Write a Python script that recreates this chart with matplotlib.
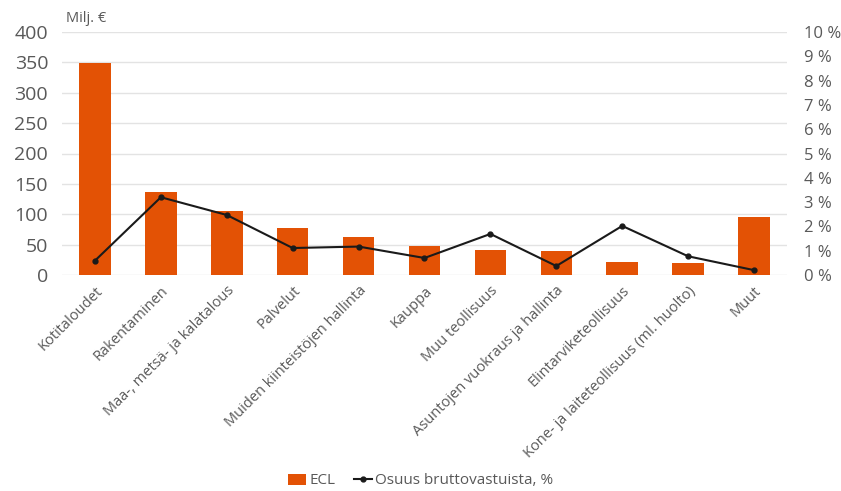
import numpy as np
import matplotlib.pyplot as plt
from matplotlib.ticker import FuncFormatter

plt.rcParams['font.family'] = ['Open Sans', 'DejaVu Sans']

# toimialat
categories = ["Kotitaloudet", "Rakentaminen", "Maa-, metsä- ja kalatalous", "Palvelut",
              "Muiden kiinteistöjen hallinta", "Kauppa", "Muu teollisuus",
              "Asuntojen vuokraus ja hallinta", "Elintarviketeollisuus",
              "Kone- ja laiteteollisuus (ml. huolto)", "Muut"]
ecl = [349, 137, 106, 77, 63, 47, 41, 39, 21, 19, 96]  # Milj. €
osuus = [0.59, 3.2, 2.47, 1.11, 1.17, 0.70, 1.69, 0.37, 2.02, 0.77, 0.2]  # %

orange = "#E35205"
grey = "#595959"

fig = plt.figure(figsize=(8.41, 4.91), dpi=100)
ax = fig.add_axes([62 / 841, 1 - 275 / 491, 725 / 841, 243 / 491])
ax2 = ax.twinx()

x = np.arange(len(categories))
ax.bar(x, ecl, width=0.48, color=orange, label="ECL", zorder=2)
ax2.plot(x, osuus, color="#1a1a1a", lw=1.5, marker="o", ms=3.5, label="Osuus bruttovastuista, %")

ax.set_xlim(-0.5, len(categories) - 0.5)
ax.set_ylim(0, 400)
ax.set_yticks(np.arange(0, 401, 50))
ax2.set_ylim(0, 10)
ax2.set_yticks(np.arange(0, 11, 1))
ax2.yaxis.set_major_formatter(FuncFormatter(lambda v, p: f"{int(v)} %"))

ax.grid(axis="y", color="#e3e3e3", lw=1, zorder=0)
ax.set_axisbelow(True)
for a in (ax, ax2):
    for s in a.spines.values():
        s.set_visible(False)
    a.tick_params(length=0, colors=grey)

ax.tick_params(axis="y", labelsize=14, pad=10)
ax2.tick_params(axis="y", labelsize=12, pad=12)
ax.set_xticks(x)
ax.set_xticklabels(categories, rotation=45, ha="right", rotation_mode="anchor",
                   fontsize=10.5, color=grey)
ax.tick_params(axis="x", pad=6)

fig.text(66 / 841, 1 - 18 / 491, "Milj. €", fontsize=10.5, color=grey, va="center")

h1, l1 = ax.get_legend_handles_labels()
h2, l2 = ax2.get_legend_handles_labels()
fig.legend(h1 + h2, l1 + l2, loc="center", bbox_to_anchor=(0.5, 1 - 481 / 491), ncol=2,
           frameon=False, fontsize=11, labelcolor=grey, handlelength=1.2,
           handletextpad=0.2, columnspacing=1.2)

fig.savefig("out.png", dpi=100)
